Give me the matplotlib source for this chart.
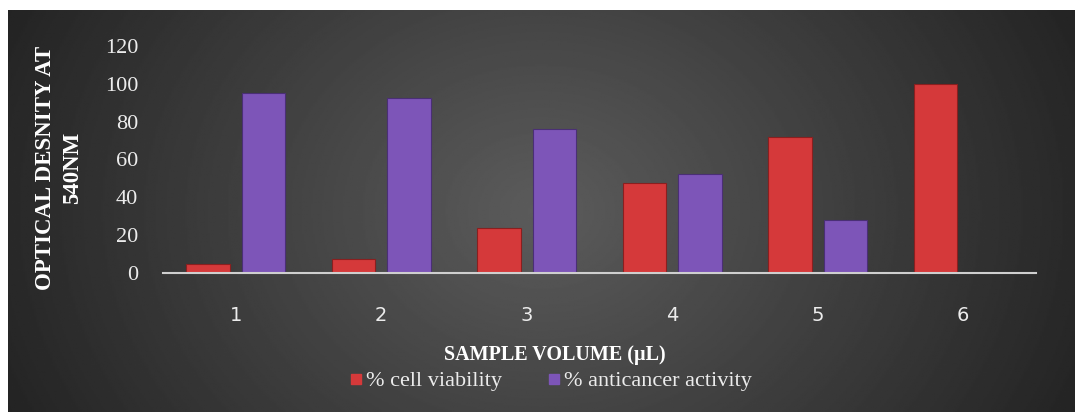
import numpy as np
import matplotlib
matplotlib.use("Agg")
import matplotlib.pyplot as plt
from matplotlib.lines import Line2D

# values
volumes = ["1", "2", "3", "4", "5", "6"]
cell_viability = [5, 7.5, 24, 47.5, 72, 100]
anticancer_activity = [95, 92.5, 76, 52.5, 28, 0]
y_ticks = [0, 20, 40, 60, 80, 100, 120]

RED = "#d5393a"
PURPLE = "#7d55b8"
TXT = "#ececec"

fig = plt.figure(figsize=(10.75, 4.12), dpi=100, facecolor="white")

# dark background panel, lighter toward the middle
bg = fig.add_axes([8 / 1075, 0, 1 - 8 / 1075, 402 / 412])
yy, xx = np.mgrid[0:1:300j, 0:1:600j]
r = np.sqrt(((xx - 0.5) / 0.6) ** 2 + ((yy - 0.5) / 1.3) ** 2)
shade = np.clip(0.36 - 0.24 * r, 0.13, 0.36)
bg.imshow(shade, cmap="gray", vmin=0, vmax=1, aspect="auto", extent=[0, 1, 0, 1])
bg.set_axis_off()

ax = fig.add_axes([163 / 1075, 139 / 412, 873 / 1075, 227 / 412])
ax.patch.set_alpha(0)

x = np.arange(len(volumes))
w = 0.30
off = 0.19
ax.bar(x - off, cell_viability, w, color=RED, edgecolor="#8a1f1f", linewidth=0.8,
       label="% cell viability")
ax.bar(x + off, anticancer_activity, w, color=PURPLE, edgecolor="#4a2f75", linewidth=0.8,
       label="% anticancer activity")

ax.set_xlim(-0.5, len(volumes) - 0.5)
ax.set_ylim(0, 120)
ax.set_yticks(y_ticks)
ax.set_yticklabels([str(t) for t in y_ticks], family="Liberation Serif", fontsize=16, color=TXT)
ax.set_xticks(x)
ax.set_xticklabels(volumes, family=["Liberation Sans Narrow", "DejaVu Sans"], fontsize=14, color=TXT)
ax.tick_params(axis="y", length=0, pad=18)
ax.tick_params(axis="x", length=0, pad=24)

for s in ["top", "right", "left"]:
    ax.spines[s].set_visible(False)
ax.spines["bottom"].set_color("#cfcfcf")
ax.spines["bottom"].set_linewidth(1.5)

fig.text(555 / 1075, 1 - 355 / 412, "SAMPLE VOLUME (\u00b5L)", ha="center", va="center",
         family="Liberation Serif", fontweight="bold", fontsize=14.5, color="white")
fig.text(59 / 1075, 1 - 168 / 412, "OPTICAL DESNITY AT\n540NM", ha="center", va="center",
         rotation=90, family="Liberation Serif", fontweight="bold", fontsize=16.5,
         color="white", linespacing=1.4)

handles = [
    Line2D([], [], marker="s", linestyle="none", markersize=7, markerfacecolor=RED,
           markeredgecolor=RED),
    Line2D([], [], marker="s", linestyle="none", markersize=7, markerfacecolor=PURPLE,
           markeredgecolor=PURPLE),
]
leg = fig.legend(handles, ["% cell viability", "% anticancer activity"], ncol=2,
                 loc="center", bbox_to_anchor=(550 / 1075, 1 - 381 / 412), frameon=False,
                 prop={"family": "Liberation Serif", "size": 16}, handletextpad=0.1,
                 columnspacing=2.0, handlelength=0.7)
for t in leg.get_texts():
    t.set_color(TXT)

fig.savefig("out.png", dpi=100, facecolor="white")
